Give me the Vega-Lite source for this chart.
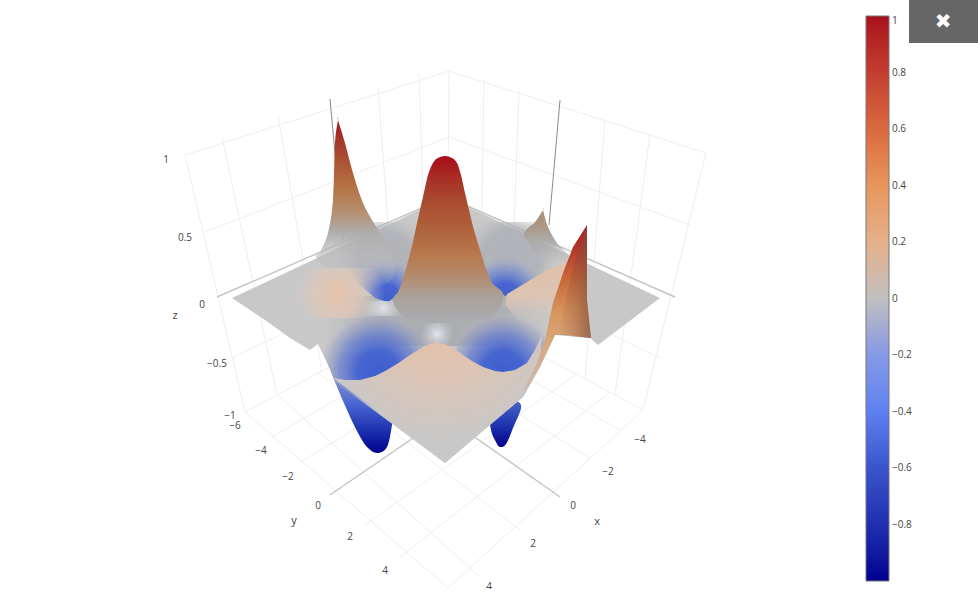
{"$schema":"https://vega.github.io/schema/vega-lite/v6.json","width":978,"height":611,"padding":0,"autosize":{"type":"none"},"background":"white","view":{"stroke":null},"resolve":{"scale":{"color":"independent"}},
"encoding":{"x":{"field":"u","type":"quantitative","scale":{"domain":[0,978]},"axis":null},"y":{"field":"v","type":"quantitative","scale":{"domain":[611,0]},"axis":null}},
"layer":[
{"data":{"values":[{"u":185,"v":155,"u2":449,"v2":71},{"u":205,"v":232,"u2":449,"v2":137},{"u":232,"v":358,"u2":447,"v2":255},{"u":245,"v":412,"u2":447,"v2":305},{"u":449,"v":71,"u2":706,"v2":153},{"u":449,"v":137,"u2":690,"v2":225},{"u":447,"v":255,"u2":660,"v2":358},{"u":447,"v":305,"u2":643,"v2":410},{"u":185,"v":155,"u2":245,"v2":412},{"u":222,"v":137,"u2":277,"v2":395},{"u":278,"v":115,"u2":322,"v2":372},{"u":378,"v":88,"u2":396,"v2":332},{"u":419,"v":73,"u2":427,"v2":316},{"u":449,"v":71,"u2":447,"v2":305},{"u":484,"v":80,"u2":480,"v2":322},{"u":519,"v":92,"u2":510,"v2":338},{"u":605,"v":119,"u2":585,"v2":378},{"u":650,"v":134,"u2":615,"v2":395},{"u":706,"v":153,"u2":643,"v2":410},{"u":272,"v":437,"u2":476,"v2":318},{"u":299,"v":463,"u2":510,"v2":335},{"u":365,"v":525,"u2":578,"v2":373},{"u":400,"v":557,"u2":610,"v2":392},{"u":448,"v":588,"u2":643,"v2":410},{"u":480,"v":577,"u2":278,"v2":395},{"u":520,"v":530,"u2":318,"v2":373},{"u":590,"v":458,"u2":390,"v2":335},{"u":620,"v":430,"u2":420,"v2":318},{"u":245,"v":412,"u2":448,"v2":588}]},"mark":{"type":"rule","color":"#eeeeee","strokeWidth":1},"encoding":{"x2":{"field":"u2"},"y2":{"field":"v2"}}},
{"data":{"values":[{"u":217,"v":297,"u2":447,"v2":197},{"u":447,"v":197,"u2":675,"v2":297},{"u":330,"v":495,"u2":546,"v2":347},{"u":560,"v":497,"u2":355,"v2":353}]},"mark":{"type":"rule","color":"#c4c4c4","strokeWidth":1.4},"encoding":{"x2":{"field":"u2"},"y2":{"field":"v2"}}},
{"data":{"values":[{"u":330,"v":99,"u2":343,"v2":240},{"u":560,"v":100,"u2":549,"v2":225}]},"mark":{"type":"rule","color":"#8a8a8a","strokeWidth":1},"encoding":{"x2":{"field":"u2"},"y2":{"field":"v2"}}},
{"data":{"values":[{"t":"1","u":166,"v":160},{"t":"0.5","u":185,"v":238},{"t":"0","u":202,"v":305},{"t":"−0.5","u":217,"v":364},{"t":"−1","u":230,"v":416},{"t":"−6","u":235,"v":426},{"t":"−4","u":261,"v":451},{"t":"−2","u":288,"v":477},{"t":"0","u":318,"v":506},{"t":"2","u":350,"v":537},{"t":"4","u":385,"v":571},{"t":"−4","u":640,"v":440},{"t":"−2","u":608,"v":472},{"t":"0","u":573,"v":506},{"t":"2","u":533,"v":544},{"t":"4","u":489,"v":587}]},"mark":{"type":"text","font":"Open Sans","fontSize":10,"color":"#444","baseline":"middle"},"encoding":{"text":{"field":"t"}}},
{"data":{"values":[{"t":"z","u":175,"v":316},{"t":"y","u":294,"v":521},{"t":"x","u":597,"v":522}]},"mark":{"type":"text","font":"Open Sans","fontSize":11,"color":"#444","baseline":"middle"},"encoding":{"text":{"field":"t"}}},
{"data":{"values":[{"u":465,"u2":515,"v":589,"v2":600}]},"mark":{"type":"rect","color":"white"},"encoding":{"x2":{"field":"u2"},"y2":{"field":"v2"}}},
{"data":{"values":[{"u":320,"v":343},{"u":320,"v":343},{"u":333,"v":377},{"u":347,"v":410},{"u":358,"v":433},{"u":367,"v":447},{"u":377,"v":453},{"u":387,"v":447},{"u":392,"v":425},{"u":395,"v":400},{"u":345,"v":360}]},"mark":{"type":"line","interpolate":"cardinal-closed","strokeWidth":0,"fill":{"gradient":"linear","x1":0,"y1":0,"x2":0,"y2":1,"stops":[{"offset":0,"color":"#8f7f72"},{"offset":0.15,"color":"#a8a8a8"},{"offset":0.38,"color":"#7a8ac8"},{"offset":0.56,"color":"#4a68d4"},{"offset":0.79,"color":"#1f34b0"},{"offset":1,"color":"#00008f"}]}},"encoding":{"order":{"value":null}}},
{"data":{"values":[{"u":490,"v":410},{"u":491,"v":430},{"u":496,"v":442},{"u":500,"v":447},{"u":506,"v":444},{"u":513,"v":428},{"u":521,"v":405},{"u":505,"v":400}]},"mark":{"type":"line","interpolate":"cardinal-closed","strokeWidth":0,"fill":{"gradient":"linear","x1":0,"y1":0,"x2":0,"y2":1,"stops":[{"offset":0,"color":"#4a66cc"},{"offset":0.5,"color":"#2338b0"},{"offset":1,"color":"#00008f"}]}},"encoding":{"order":{"value":null}}},
{"data":{"values":[{"u":232,"v":298},{"u":447,"v":197},{"u":660,"v":298},{"u":598,"v":345},{"u":590,"v":338},{"u":555,"v":335},{"u":540,"v":367},{"u":523,"v":397},{"u":445,"v":463},{"u":337,"v":383},{"u":318,"v":344},{"u":310,"v":350},{"u":290,"v":338},{"u":265,"v":320}]},"mark":{"type":"line","interpolate":"linear-closed","strokeWidth":0,"fill":"#c8c8c8"},"encoding":{"order":{"value":null}}},
{"data":{"values":[{"u":320,"v":296},{"u":555,"v":296},{"u":555,"v":346},{"u":320,"v":346}]},"mark":{"type":"line","interpolate":"linear-closed","strokeWidth":0,"fill":{"gradient":"radial","x1":0.5,"y1":0.5,"r1":0,"x2":0.5,"y2":0.5,"r2":0.5,"stops":[{"offset":0,"color":"rgba(168,170,172,1)"},{"offset":0.6,"color":"rgba(172,174,178,0.9)"},{"offset":1,"color":"rgba(190,192,196,0)"}]}},"encoding":{"order":{"value":null}}},
{"data":{"values":[{"u":335,"v":222},{"u":435,"v":222},{"u":435,"v":302},{"u":388,"v":302},{"u":375,"v":298},{"u":360,"v":285},{"u":345,"v":270},{"u":335,"v":262}]},"mark":{"type":"line","interpolate":"linear-closed","strokeWidth":0,"fill":{"gradient":"radial","x1":0.5,"y1":0.5,"r1":0,"x2":0.5,"y2":0.5,"r2":0.5,"stops":[{"offset":0,"color":"rgba(176,178,184,1)"},{"offset":0.6,"color":"rgba(176,178,184,0.9)"},{"offset":1,"color":"rgba(190,192,196,0)"}]}},"encoding":{"order":{"value":null}}},
{"data":{"values":[{"u":345,"v":215},{"u":425,"v":215},{"u":425,"v":262},{"u":410,"v":280},{"u":400,"v":293},{"u":388,"v":302},{"u":375,"v":298},{"u":360,"v":285},{"u":345,"v":268}]},"mark":{"type":"line","interpolate":"linear-closed","strokeWidth":0,"fill":{"gradient":"radial","x1":0.5,"y1":0.97,"r1":0,"x2":0.5,"y2":0.97,"r2":0.5,"stops":[{"offset":0,"color":"rgba(62,95,208,1)"},{"offset":0.35,"color":"rgba(72,102,208,1)"},{"offset":0.7,"color":"rgba(130,148,205,0.7)"},{"offset":1,"color":"rgba(185,190,200,0)"}]}},"encoding":{"order":{"value":null}}},
{"data":{"values":[{"u":338,"v":120},{"u":338,"v":120},{"u":345,"v":143},{"u":353,"v":173},{"u":363,"v":203},{"u":375,"v":225},{"u":388,"v":245},{"u":395,"v":270},{"u":385,"v":285},{"u":360,"v":290},{"u":330,"v":272},{"u":316,"v":257},{"u":320,"v":252},{"u":328,"v":233},{"u":333,"v":200},{"u":335,"v":143}]},"mark":{"type":"line","interpolate":"cardinal-closed","strokeWidth":0,"fill":{"gradient":"linear","x1":0,"y1":0,"x2":0,"y2":1,"stops":[{"offset":0,"color":"#a5141e"},{"offset":0.12,"color":"#a53228"},{"offset":0.26,"color":"#ab5433"},{"offset":0.41,"color":"#b47444"},{"offset":0.55,"color":"#b58f72"},{"offset":0.66,"color":"#aeacaa"},{"offset":0.8,"color":"rgba(185,185,188,0.6)"},{"offset":1,"color":"rgba(185,185,190,0)"}]}},"encoding":{"order":{"value":null}}},
{"data":{"values":[{"u":460,"v":222},{"u":560,"v":222},{"u":560,"v":262},{"u":520,"v":292},{"u":505,"v":296},{"u":490,"v":285},{"u":480,"v":255},{"u":460,"v":240}]},"mark":{"type":"line","interpolate":"linear-closed","strokeWidth":0,"fill":{"gradient":"radial","x1":0.5,"y1":0.5,"r1":0,"x2":0.5,"y2":0.5,"r2":0.5,"stops":[{"offset":0,"color":"rgba(176,178,184,1)"},{"offset":0.6,"color":"rgba(176,178,184,0.9)"},{"offset":1,"color":"rgba(190,192,196,0)"}]}},"encoding":{"order":{"value":null}}},
{"data":{"values":[{"u":460,"v":215},{"u":550,"v":215},{"u":550,"v":270},{"u":520,"v":292},{"u":505,"v":296},{"u":490,"v":285},{"u":480,"v":255},{"u":460,"v":240}]},"mark":{"type":"line","interpolate":"linear-closed","strokeWidth":0,"fill":{"gradient":"radial","x1":0.5,"y1":0.98,"r1":0,"x2":0.5,"y2":0.98,"r2":0.5,"stops":[{"offset":0,"color":"rgba(62,95,208,1)"},{"offset":0.35,"color":"rgba(72,102,208,1)"},{"offset":0.7,"color":"rgba(130,148,205,0.7)"},{"offset":1,"color":"rgba(185,190,200,0)"}]}},"encoding":{"order":{"value":null}}},
{"data":{"values":[{"u":543,"v":210},{"u":543,"v":210},{"u":548,"v":227},{"u":557,"v":243},{"u":568,"v":255},{"u":560,"v":262},{"u":540,"v":258},{"u":530,"v":245},{"u":524,"v":235},{"u":528,"v":228},{"u":535,"v":222}]},"mark":{"type":"line","interpolate":"cardinal-closed","strokeWidth":0,"fill":{"gradient":"linear","x1":0,"y1":0,"x2":0,"y2":1,"stops":[{"offset":0,"color":"#ae8c72"},{"offset":0.35,"color":"#ab9886"},{"offset":0.6,"color":"#acaba8"},{"offset":1,"color":"rgba(175,175,178,0)"}]}},"encoding":{"order":{"value":null}}},
{"data":{"values":[{"u":290,"v":268},{"u":385,"v":268},{"u":385,"v":318},{"u":290,"v":318}]},"mark":{"type":"line","interpolate":"linear-closed","strokeWidth":0,"fill":{"gradient":"radial","x1":0.5,"y1":0.5,"r1":0,"x2":0.5,"y2":0.5,"r2":0.5,"stops":[{"offset":0,"color":"rgba(230,195,170,1)"},{"offset":0.5,"color":"rgba(226,200,184,0.7)"},{"offset":1,"color":"rgba(200,200,200,0)"}]}},"encoding":{"order":{"value":null}}},
{"data":{"values":[{"u":362,"v":301},{"u":404,"v":301},{"u":404,"v":316},{"u":362,"v":316}]},"mark":{"type":"line","interpolate":"linear-closed","strokeWidth":0,"fill":{"gradient":"radial","x1":0.5,"y1":0.5,"r1":0,"x2":0.5,"y2":0.5,"r2":0.5,"stops":[{"offset":0,"color":"rgba(228,230,236,0.9)"},{"offset":1,"color":"rgba(215,218,225,0)"}]}},"encoding":{"order":{"value":null}}},
{"data":{"values":[{"u":507,"v":294},{"u":527,"v":282},{"u":547,"v":270},{"u":567,"v":262},{"u":553,"v":303},{"u":545,"v":330},{"u":520,"v":322},{"u":505,"v":305}]},"mark":{"type":"line","interpolate":"linear-closed","strokeWidth":0,"fill":{"gradient":"linear","x1":0,"y1":0,"x2":0,"y2":1,"stops":[{"offset":0,"color":"#e0c0a8"},{"offset":0.5,"color":"#dcc4b2"},{"offset":1,"color":"rgba(200,200,205,0)"}]}},"encoding":{"order":{"value":null}}},
{"data":{"values":[{"u":445,"v":156},{"u":438,"v":158},{"u":433,"v":163},{"u":428,"v":175},{"u":423,"v":197},{"u":420,"v":210},{"u":415.5,"v":230},{"u":411,"v":250},{"u":405.5,"v":270},{"u":399,"v":290},{"u":393,"v":300},{"u":400,"v":313},{"u":420,"v":328},{"u":445,"v":332},{"u":480,"v":330},{"u":497,"v":312},{"u":503,"v":294},{"u":492,"v":283},{"u":486.5,"v":270},{"u":480,"v":250},{"u":474,"v":230},{"u":469,"v":210},{"u":465,"v":193},{"u":461,"v":175},{"u":457,"v":163},{"u":452,"v":158}]},"mark":{"type":"line","interpolate":"cardinal-closed","strokeWidth":0,"fill":{"gradient":"linear","x1":0,"y1":0,"x2":0,"y2":1,"stops":[{"offset":0,"color":"#a80c18"},{"offset":0.11,"color":"#a82a24"},{"offset":0.25,"color":"#a84a30"},{"offset":0.4,"color":"#af603a"},{"offset":0.57,"color":"#b87a4e"},{"offset":0.71,"color":"#b28f76"},{"offset":0.8,"color":"#a8a29a"},{"offset":0.9,"color":"#a9a9ab"},{"offset":1,"color":"rgba(175,178,185,0)"}]}},"encoding":{"order":{"value":null}}},
{"data":{"values":[{"u":318,"v":295},{"u":438,"v":295},{"u":438,"v":342},{"u":378,"v":412},{"u":337,"v":383},{"u":318,"v":344}]},"mark":{"type":"line","interpolate":"linear-closed","strokeWidth":0,"fill":{"gradient":"radial","x1":0.5,"y1":0.65,"r1":0,"x2":0.5,"y2":0.65,"r2":0.5,"stops":[{"offset":0,"color":"rgba(62,95,208,1)"},{"offset":0.35,"color":"rgba(72,102,208,1)"},{"offset":0.65,"color":"rgba(110,130,205,0.8)"},{"offset":0.85,"color":"rgba(150,160,195,0.5)"},{"offset":1,"color":"rgba(185,190,200,0)"}]}},"encoding":{"order":{"value":null}}},
{"data":{"values":[{"u":453,"v":295},{"u":553,"v":295},{"u":553,"v":340},{"u":503,"v":412},{"u":470,"v":370},{"u":453,"v":345}]},"mark":{"type":"line","interpolate":"linear-closed","strokeWidth":0,"fill":{"gradient":"radial","x1":0.5,"y1":0.65,"r1":0,"x2":0.5,"y2":0.65,"r2":0.5,"stops":[{"offset":0,"color":"rgba(62,95,208,1)"},{"offset":0.35,"color":"rgba(72,102,208,1)"},{"offset":0.65,"color":"rgba(110,130,205,0.8)"},{"offset":0.85,"color":"rgba(150,160,195,0.5)"},{"offset":1,"color":"rgba(185,190,200,0)"}]}},"encoding":{"order":{"value":null}}},
{"data":{"values":[{"u":420,"v":323},{"u":454,"v":323},{"u":454,"v":345},{"u":420,"v":345}]},"mark":{"type":"line","interpolate":"linear-closed","strokeWidth":0,"fill":{"gradient":"radial","x1":0.5,"y1":0.5,"r1":0,"x2":0.5,"y2":0.5,"r2":0.5,"stops":[{"offset":0,"color":"rgba(228,230,234,1)"},{"offset":1,"color":"rgba(200,205,215,0)"}]}},"encoding":{"order":{"value":null}}},
{"data":{"values":[{"u":333,"v":378},{"u":345,"v":380},{"u":360,"v":380},{"u":375,"v":376},{"u":387,"v":370},{"u":400,"v":362},{"u":413,"v":353},{"u":425,"v":346},{"u":437,"v":342},{"u":449,"v":346},{"u":460,"v":353},{"u":472,"v":361},{"u":483,"v":367},{"u":495,"v":371},{"u":503,"v":372},{"u":515,"v":370},{"u":527,"v":363},{"u":535,"v":350},{"u":542,"v":335},{"u":540,"v":367},{"u":523,"v":397},{"u":445,"v":463}]},"mark":{"type":"line","interpolate":"linear-closed","strokeWidth":0,"fill":{"gradient":"radial","x1":0.52,"y1":0.1,"r1":0,"x2":0.52,"y2":0.1,"r2":0.6,"stops":[{"offset":0,"color":"#e6c0a4"},{"offset":0.5,"color":"#dcc4b4"},{"offset":1,"color":"#c8c8c8"}]}},"encoding":{"order":{"value":null}}},
{"data":{"values":[{"u":587,"v":225},{"u":573,"v":247},{"u":563,"v":273},{"u":553,"v":303},{"u":545,"v":340},{"u":537,"v":363},{"u":527,"v":383},{"u":522,"v":397},{"u":540,"v":367},{"u":555,"v":335},{"u":567,"v":335},{"u":591,"v":338},{"u":587,"v":300}]},"mark":{"type":"line","interpolate":"linear-closed","strokeWidth":0,"fill":{"gradient":"linear","x1":0,"y1":0,"x2":0,"y2":1,"stops":[{"offset":0,"color":"#a81420"},{"offset":0.15,"color":"#b83a2c"},{"offset":0.32,"color":"#c86a3c"},{"offset":0.5,"color":"#d8945c"},{"offset":0.7,"color":"#d8a880"},{"offset":1,"color":"#c8c0b8"}]}},"encoding":{"order":{"value":null}}},
{"data":{"values":[{"u":587,"v":225},{"u":575,"v":260},{"u":565,"v":300},{"u":558,"v":335},{"u":591,"v":338},{"u":587,"v":300}]},"mark":{"type":"line","interpolate":"linear-closed","strokeWidth":0,"fill":{"gradient":"linear","x1":0,"y1":0,"x2":1,"y2":0,"stops":[{"offset":0,"color":"rgba(130,70,50,0)"},{"offset":0.6,"color":"rgba(130,75,55,0.35)"},{"offset":1,"color":"rgba(130,85,65,0.75)"}]}},"encoding":{"order":{"value":null}}},
{"data":{"values":[{"u":909,"u2":978,"v":0,"v2":43}]},"mark":{"type":"rect","color":"#666666"},"encoding":{"x2":{"field":"u2"},"y2":{"field":"v2"}}},
{"data":{"values":[{"t":"✖","u":943,"v":22}]},"mark":{"type":"text","font":"DejaVu Sans","fontSize":20,"color":"white","baseline":"middle"},"encoding":{"text":{"field":"t"}}},
{"data":{"values":[{"z":-1,"u":870,"v":300},{"z":1,"u":870,"v":300}]},"mark":{"type":"point","filled":true,"size":0,"opacity":1},"encoding":{"color":{"field":"z","type":"quantitative","scale":{"domain":[-1,-0.8,-0.6,-0.4,-0.2,0,0.2,0.4,0.6,0.8,1],"range":["#00008f","#1f2fb0","#3a55cc","#5f80f0","#8499e6","#c0c0c0","#e5b08a","#e8965c","#d9693f","#c33d30","#a8101c"]},"legend":{"orient":"none","legendX":866,"legendY":16,"gradientLength":565,"gradientThickness":23,"title":null,"values":[-0.8,-0.6,-0.4,-0.2,0,0.2,0.4,0.6,0.8,1],"format":".2~f","labelFont":"Open Sans","labelFontSize":10,"labelColor":"#444","labelOverlap":false,"labelOffset":3,"gradientStrokeColor":"#777","gradientStrokeWidth":1,"labelExpr":"replace(datum.label,'-','−')"}}}}
]}
